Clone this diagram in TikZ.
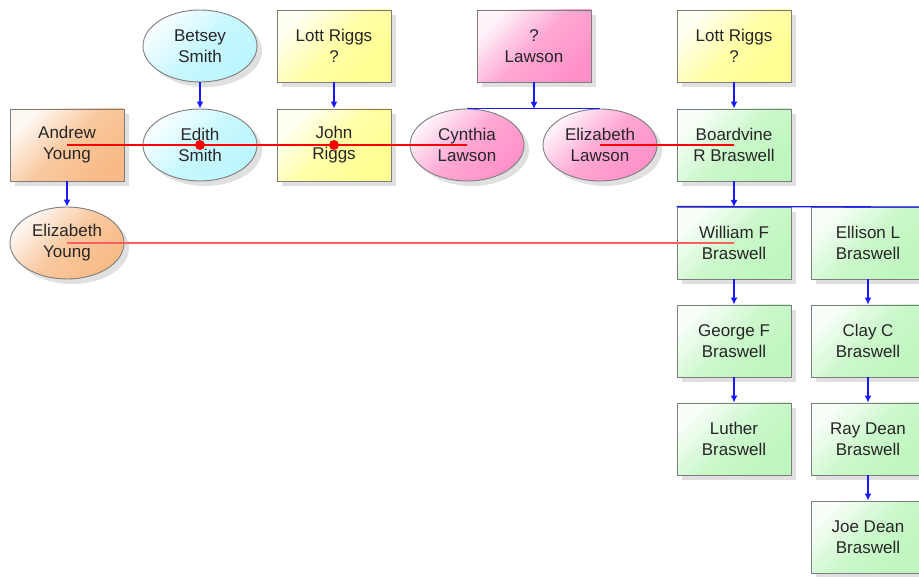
\documentclass[tikz,border=0pt]{standalone}
\usepackage{fontspec}
\setmainfont{Liberation Sans}
\usetikzlibrary{shapes.geometric,shadows,arrows.meta}
\definecolor{cyanF}{RGB}{188,246,255}
\definecolor{yelF}{RGB}{255,255,145}
\definecolor{pinkF}{RGB}{255,145,200}
\definecolor{oraF}{RGB}{248,186,134}
\definecolor{grnF}{RGB}{190,246,190}
\definecolor{edgeC}{RGB}{125,125,125}
\definecolor{lnk}{RGB}{25,25,255}
\definecolor{marC}{RGB}{255,0,0}
\definecolor{marD}{RGB}{255,95,95}
\tikzset{
  person/.style={draw=edgeC, line width=0.9pt, minimum width=114pt, minimum height=72pt,
    inner sep=0pt, align=center, font=\fontsize{17}{21}\selectfont, text=black!85,
    drop shadow={shadow xshift=5pt, shadow yshift=-5pt, fill=black!30, opacity=0.4}},
  boxp/.style={person, rectangle},
  ovalp/.style={person, ellipse},
  fillc/.style={top color=#1!10, bottom color=#1, middle color=#1!80, shading angle=45},
  child/.style={draw=lnk, line width=1.3pt, -{Latex[length=7pt,width=7pt]}},
  bar/.style={draw=lnk, line width=1.3pt},
  marr/.style={draw=marC, line width=1.4pt},
  marrb/.style={draw=marD, line width=1.4pt},
  dotm/.style={fill=marC}
}
\begin{document}
\begin{tikzpicture}[x=1pt,y=-1pt]
\useasboundingbox (0,0) rectangle (919,577);
% row 1
\node[ovalp, fillc=cyanF] (betsey) at (200,46) {Betsey\\Smith};
\node[boxp, fillc=yelF] (lott1) at (334,46) {Lott Riggs\\?};
\node[boxp, fillc=pinkF] (qlawson) at (534,46) {?\\Lawson};
\node[boxp, fillc=yelF] (lott2) at (734,46) {Lott Riggs\\?};
% row 2
\node[boxp, fillc=oraF] (andrew) at (67,145) {Andrew\\Young};
\node[ovalp, fillc=cyanF] (edith) at (200,145) {Edith\\Smith};
\node[boxp, fillc=yelF] (john) at (334,145) {John\\Riggs};
\node[ovalp, fillc=pinkF] (cynthia) at (467,145) {Cynthia\\Lawson};
\node[ovalp, fillc=pinkF] (elawson) at (600,145) {Elizabeth\\Lawson};
\node[boxp, fillc=grnF] (boardvine) at (734,145) {Boardvine\\R Braswell};
% row 3
\node[ovalp, fillc=oraF] (eyoung) at (67,243) {Elizabeth\\Young};
\node[boxp, fillc=grnF] (william) at (734,243) {William F\\Braswell};
\node[boxp, fillc=grnF] (ellison) at (868,243) {Ellison L\\Braswell};
% row 4-6
\node[boxp, fillc=grnF] (george) at (734,341) {George F\\Braswell};
\node[boxp, fillc=grnF] (clay) at (868,341) {Clay C\\Braswell};
\node[boxp, fillc=grnF] (luther) at (734,439) {Luther\\Braswell};
\node[boxp, fillc=grnF] (ray) at (868,439) {Ray Dean\\Braswell};
\node[boxp, fillc=grnF] (joe) at (868,537) {Joe Dean\\Braswell};
% parent-child links
\draw[child] (betsey) -- (edith);
\draw[child] (lott1) -- (john);
\draw[child] (andrew) -- (eyoung);
\draw[child] (lott2) -- (boardvine);
\coordinate (lbar) at (534,109);
\draw[child] (qlawson) -- (lbar);
\draw[bar] (cynthia.north) -- (elawson.north);
\coordinate (bbar) at (734,207);
\coordinate (bbarR) at (925,207);
\draw[child] (boardvine) -- (bbar);
\draw[bar] (william.north west) -- (bbarR);
\draw[child] (william) -- (george);
\draw[child] (george) -- (luther);
\draw[child] (ellison) -- (clay);
\draw[child] (clay) -- (ray);
\draw[child] (ray) -- (joe);
% marriages
\draw[marr] (andrew.center) -- (cynthia.center);
\fill[dotm] (edith.center) circle (5pt);
\fill[dotm] (john.center) circle (5pt);
\draw[marr] (elawson.center) -- (boardvine.center);
\draw[marrb] (eyoung.center) -- (william.center);
\end{tikzpicture}
\end{document}
